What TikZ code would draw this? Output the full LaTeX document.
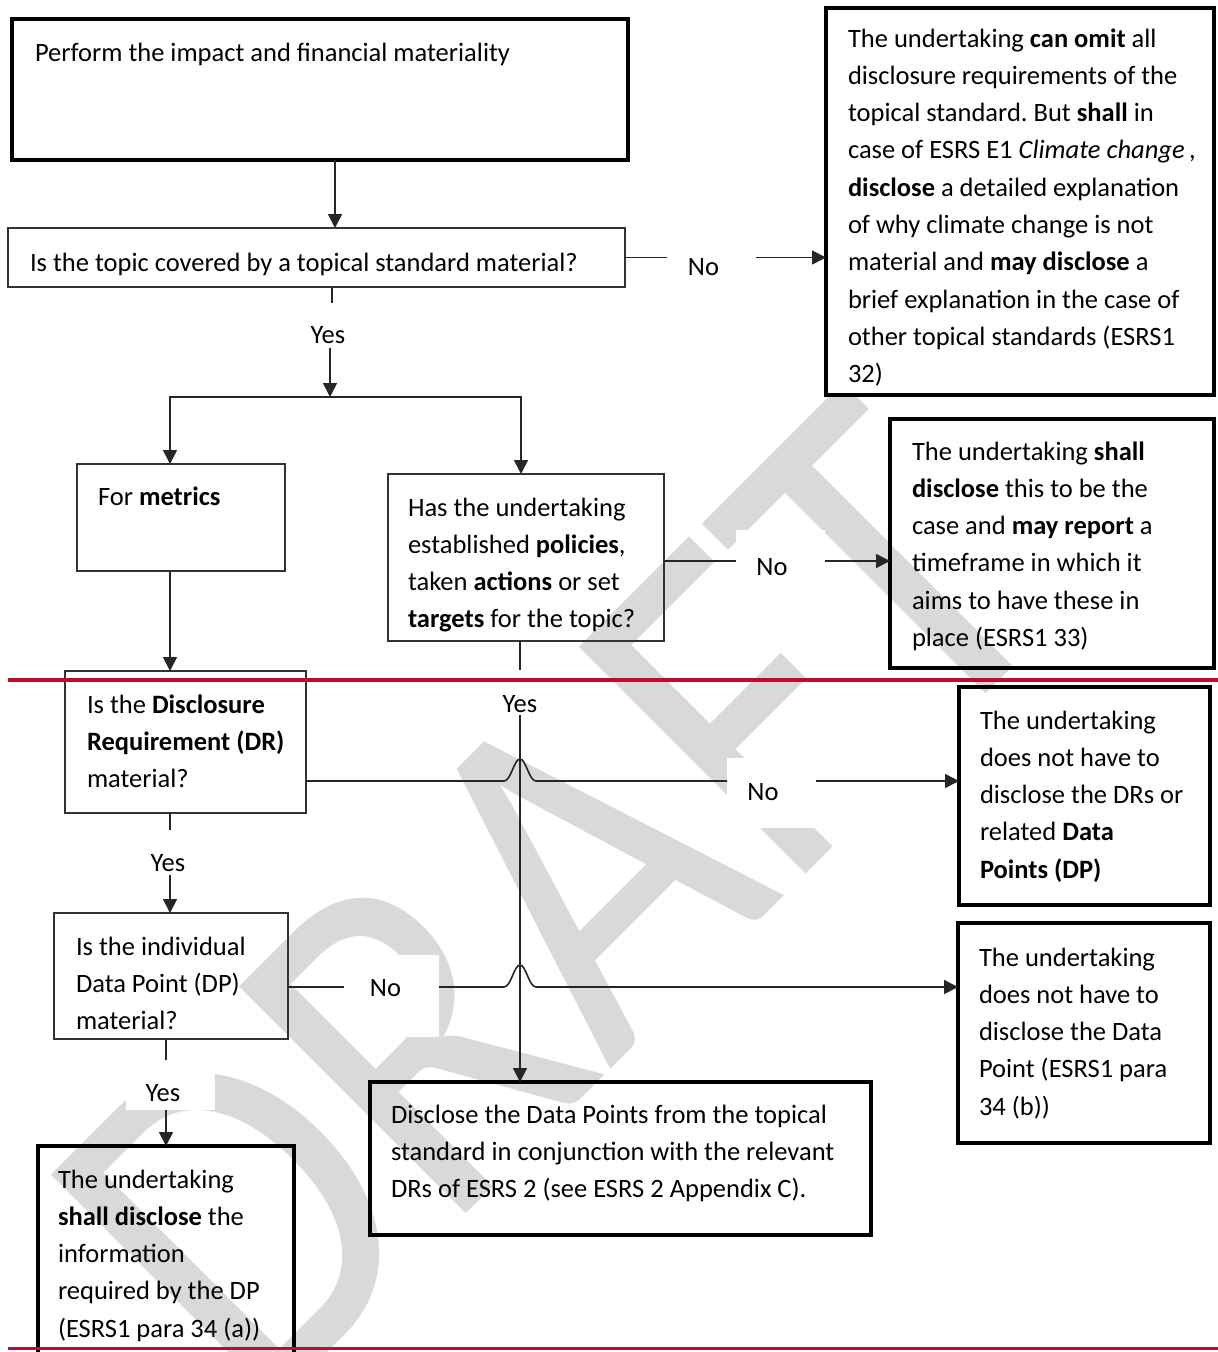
\documentclass[tikz,border=0pt]{standalone}
\usepackage{fontspec}
\setmainfont{Carlito}
\usetikzlibrary{arrows.meta,calc}
\newcommand\mystrut{\rule{0pt}{22pt}}
\definecolor{redrule}{RGB}{190,12,46}
\frenchspacing
\begin{document}
\begin{tikzpicture}[x=1pt,y=-1pt,
  thinbox/.style={draw=black!80, line width=1.5pt, inner sep=0pt, outer sep=0pt},
  thickbox/.style={draw=black, line width=4pt, inner sep=0pt, outer sep=0pt},
  txt/.style={anchor=north west, inner sep=0pt, outer sep=0pt, align=left, font=\fontsize{26.5}{37.3}\selectfont},
  conn/.style={draw=black!85, line width=1.6pt},
  arr/.style={conn, -{Triangle[length=14pt,width=14pt]}},
  wbox/.style={fill=white, inner sep=0pt, outer sep=0pt},
  lbl/.style={anchor=base, inner sep=0pt, font=\fontsize{26.5}{32}\selectfont},
  redline/.style={draw=redrule, line width=4pt},
  wm/.style={text=black!15, rotate=45, anchor=base west, inner sep=0pt, font=\fontsize{500}{500}\selectfont}]
\useasboundingbox (0,0) rectangle (1218,1352);
\fill[white] (0,0) rectangle (1218,1352);
% watermark
\node[wm] (wmark) at (257.5,1422.5) {\scalebox{0.86}[1]{DRAFT}};
% label backgrounds
\node[wbox, minimum width=89pt, minimum height=54pt] (n1) at (711.5,260) {};
\node[wbox, minimum width=89pt, minimum height=67pt] (n2) at (780.5,563.5) {};
\node[wbox, minimum width=89pt, minimum height=70pt] (n3) at (771.5,793) {};
\node[wbox, minimum width=95pt, minimum height=82pt] (n4) at (391.5,996) {};
\node[wbox, minimum width=87pt, minimum height=45pt] (y1) at (335.5,325.5) {};
\node[wbox, minimum width=88pt, minimum height=45pt] (y2) at (527,692.5) {};
\node[wbox, minimum width=90pt, minimum height=45pt] (y3) at (174,852.5) {};
\node[wbox, minimum width=89pt, minimum height=50pt] (y4) at (170.5,1085) {};
% boxes
\node[thickbox, minimum width=616pt, minimum height=141pt] (b1) at (320,89.5) {};
\node[thinbox, minimum width=617pt, minimum height=59pt] (b2) at (316.5,257.5) {};
\node[thickbox, fill=white, minimum width=388pt, minimum height=387pt] (b3) at (1020,201.5) {};
\node[thinbox, minimum width=208pt, minimum height=107pt] (b4) at (181,517.5) {};
\node[thinbox, minimum width=276pt, minimum height=167pt] (b5) at (526,557.5) {};
\node[thickbox, minimum width=324pt, minimum height=249pt] (b6) at (1052,543.5) {};
\node[thinbox, minimum width=241pt, minimum height=142pt] (b7) at (185.5,742) {};
\node[thickbox, minimum width=251pt, minimum height=218pt] (b8) at (1084.5,796) {};
\node[thinbox, minimum width=234pt, minimum height=126pt] (b9) at (171,976) {};
\node[thickbox, minimum width=252pt, minimum height=220pt] (b10) at (1084,1033) {};
\node[thickbox, minimum width=256pt, minimum height=252pt] (b11) at (166,1272) {};
\node[thickbox, minimum width=501pt, minimum height=153pt] (b12) at (620.5,1158.5) {};
% coordinates
\coordinate (c1) at ([xshift=15.5pt]b2.south);
\coordinate (sp) at (330,397);
\coordinate (vx) at ([xshift=-6pt]b5.south);
\coordinate (r2) at ([yshift=-3.5pt]b5.east);
\coordinate (r3) at ([yshift=-39pt]b7.east);
\coordinate (c3) at ([xshift=-15.5pt]b7.south);
\coordinate (r4) at ([yshift=-11pt]b9.east);
\coordinate (c4) at ([xshift=-5pt]b9.south);
% connectors
\draw[arr] ([xshift=15pt]b1.south) -- ([xshift=15pt]b1.south |- b2.north);
\draw[conn] (b2.east) -- (b2.east -| n1.west);
\draw[arr] (b2.east -| n1.east) -- (b2.east -| b3.west);
\draw[conn] (c1) -- (c1 |- y1.north);
\draw[arr] (sp |- y1.south) -- (sp);
\draw[arr] (sp) -| ([xshift=-11pt]b4.north);
\draw[arr] (sp) -| ([xshift=-5pt]b5.north);
\draw[conn] (r2) -- (r2 -| n2.west);
\draw[arr] (r2 -| n2.east) -- (r2 -| b6.west);
\draw[conn] (vx) -- (vx |- y2.north);
\draw[arr] (vx |- y2.south) -- (vx |- b12.north);
\draw[arr] ([xshift=-11pt]b4.south) -- ([xshift=-11pt]b4.south |- b7.north);
\draw[conn] (r3) -- ($(r3 -| vx)+(-16,0)$)
  .. controls ($(r3 -| vx)+(-9,0)$) and ($(r3 -| vx)+(-6,-22)$) .. ($(r3 -| vx)+(0,-22)$)
  .. controls ($(r3 -| vx)+(6,-22)$) and ($(r3 -| vx)+(9,0)$) .. ($(r3 -| vx)+(16,0)$)
  -- (r3 -| n3.west);
\draw[arr] (r3 -| n3.east) -- (r3 -| b8.west);
\draw[conn] (c3) -- (c3 |- y3.north);
\draw[arr] (c3 |- y3.south) -- (c3 |- b9.north);
\draw[conn] (r4) -- (r4 -| n4.west);
\draw[arr] (r4 -| n4.east) -- ($(r4 -| vx)+(-16,0)$)
  .. controls ($(r4 -| vx)+(-9,0)$) and ($(r4 -| vx)+(-6,-22)$) .. ($(r4 -| vx)+(0,-22)$)
  .. controls ($(r4 -| vx)+(6,-22)$) and ($(r4 -| vx)+(9,0)$) .. ($(r4 -| vx)+(16,0)$)
  -- (r4 -| b10.west);
\draw[conn] (c4) -- (c4 |- y4.north);
\draw[arr] (c4 |- y4.south) -- (c4 |- b11.north);
% labels
\node[lbl] (n1t) at (703.5,275) {No};
\node[lbl] (n2t) at (772,575) {No};
\node[lbl] (n3t) at (763,800) {No};
\node[lbl] (n4t) at (385.5,996) {No};
\node[lbl] (y1t) at (328,343) {Yes};
\node[lbl] (y2t) at (520,712) {Yes};
\node[lbl] (y3t) at (168,871) {Yes};
\node[lbl] (y4t) at (163,1101) {Yes};
% texts
\node[txt] (t1) at (35,39) {\mystrut Perform the impact and financial materiality};
\node[txt] (t2) at (30,249) {\mystrut Is the topic covered by a topical standard material?};
\node[txt] (t3) at (848,25) {\mystrut The undertaking \textbf{can omit} all\\disclosure requirements of the\\topical standard. But \textbf{shall} in\\case of ESRS E1 \textit{Climate change}\,,\\\textbf{disclose} a detailed explanation\\of why climate change is not\\material and \textbf{may disclose} a\\brief explanation in the case of\\other topical standards (ESRS1\\32)};
\node[txt] (t4) at (98,483) {\mystrut For \textbf{metrics}};
\node[txt] (t5) at (408,494) {\mystrut Has the undertaking\\established \textbf{policies},\\taken \textbf{actions} or set\\\textbf{targets} for the topic?};
\node[txt] (t6) at (912,438) {\mystrut The undertaking \textbf{shall}\\\textbf{disclose} this to be the\\case and \textbf{may report} a\\timeframe in which it\\aims to have these in\\place (ESRS1 33)};
\node[txt] (t7) at (87,691) {\mystrut Is the \textbf{Disclosure}\\\textbf{Requirement (DR)}\\material?};
\node[txt] (t8) at (980,707) {\mystrut The undertaking\\does not have to\\disclose the DRs or\\related \textbf{Data}\\\textbf{Points (DP)}};
\node[txt] (t9) at (76,933) {\mystrut Is the individual\\Data Point (DP)\\material?};
\node[txt] (t10) at (979,944) {\mystrut The undertaking\\does not have to\\disclose the Data\\Point (ESRS1 para\\34 (b))};
\node[txt] (t11) at (58,1166) {\mystrut The undertaking\\\textbf{shall disclose} the\\information\\required by the DP\\(ESRS1 para 34 (a))};
\node[txt] (t12) at (391,1101) {\mystrut Disclose the Data Points from the topical\\standard in conjunction with the relevant\\DRs of ESRS 2 (see ESRS 2 Appendix C).};
% red rules
\draw[redline] (8,680) -- (1218,680);
\draw[redline, line width=3pt] (8,1348) -- (1218,1348);
\end{tikzpicture}
\end{document}
